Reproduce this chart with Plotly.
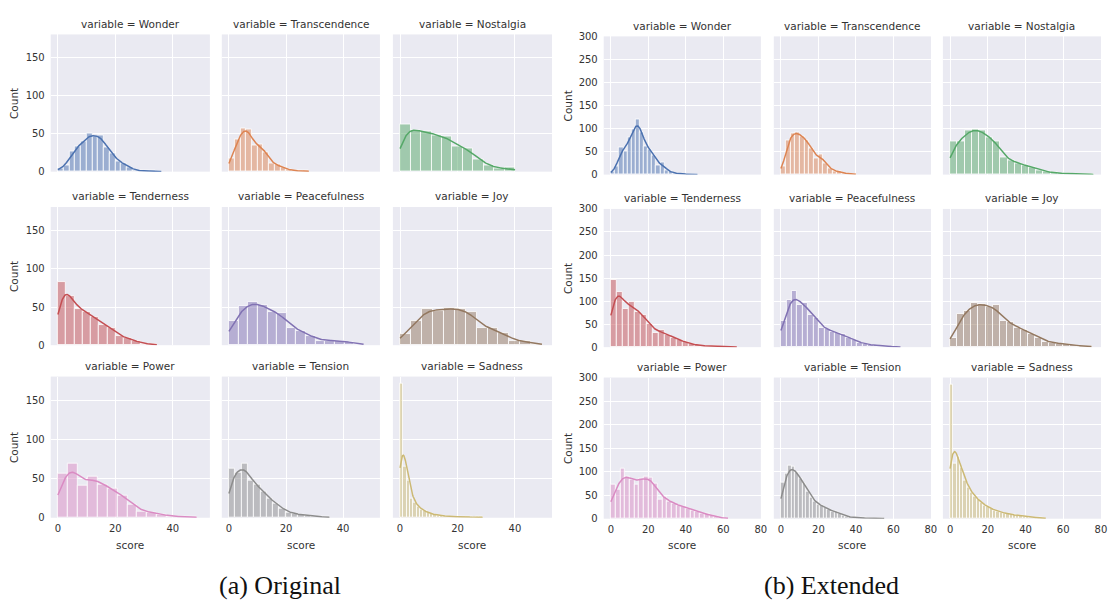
import numpy as np
import plotly.graph_objects as go

# ---------------- data ----------------
emotions = ["Wonder", "Transcendence", "Nostalgia",
            "Tenderness", "Peacefulness", "Joy",
            "Power", "Tension", "Sadness"]
colors = ["#4C72B0", "#DD8452", "#55A868",
          "#C44E52", "#8172B3", "#937860",
          "#DA8BC3", "#8C8C8C", "#CCB974"]

# (a) Original: bin width per emotion and counts per bin (bins start at 0)
orig_binwidth = [2.0, 2.0, 3.64, 2.87, 3.37, 3.8, 3.45, 2.2, 1.15]
orig_wonder = [4, 8, 27, 33, 40, 50, 47, 48, 32, 24, 13, 11, 5, 2, 1, 1, 1, 0]
orig_transcendence = [18, 42, 57, 56, 34, 36, 25, 11, 9, 5, 3, 1, 1, 1]
orig_nostalgia = [62, 54, 53, 48, 46, 33, 31, 16, 8, 4, 5]
orig_tenderness = [83, 65, 47, 44, 37, 27, 22, 12, 9, 5, 2, 1]
orig_peacefulness = [32, 51, 57, 53, 44, 42, 22, 19, 12, 6, 6, 6, 4, 2]
orig_joy = [15, 32, 48, 45, 49, 47, 44, 22, 23, 16, 5, 5, 2]
orig_power = [56, 70, 41, 53, 43, 37, 29, 17, 8, 7, 4, 2, 1, 1]
orig_tension = [63, 58, 70, 48, 42, 33, 25, 18, 12, 7, 5, 4, 3, 2, 1, 1]
orig_sadness = [172, 65, 48, 24, 20, 14, 10, 9, 6, 5, 4, 3, 3, 2, 2, 1, 1,
                1, 2, 2, 1, 1, 0, 1, 1]

# (b) Extended
ext_binwidth = [2.2, 2.5, 3.8, 3.2, 2.9, 3.75, 2.5, 1.9, 1.75]
ext_wonder = [7, 18, 60, 50, 80, 98, 120, 92, 62, 55, 42, 20, 26, 10, 6, 3,
              2, 1, 1, 1, 1]
ext_transcendence = [17, 74, 90, 92, 84, 75, 58, 36, 44, 24, 13, 8, 6, 3, 2, 1]
ext_nostalgia = [72, 72, 96, 99, 95, 80, 72, 38, 30, 25, 20, 16, 10, 6, 4, 3,
                 2, 1, 1, 1]
ext_tenderness = [146, 120, 82, 98, 76, 70, 50, 30, 37, 27, 20, 15, 11, 6, 4,
                  3, 3, 2, 1, 1, 1]
ext_peacefulness = [58, 102, 122, 91, 97, 71, 63, 42, 39, 34, 31, 29, 21, 15,
                    10, 7, 5, 4, 3, 2, 1, 1]
ext_joy = [21, 72, 79, 96, 94, 88, 91, 57, 54, 42, 38, 29, 21, 12, 10, 8, 6,
           4, 3, 2]
ext_power = [72, 62, 107, 90, 83, 73, 86, 90, 88, 75, 41, 47, 36, 32, 28, 26,
             22, 18, 15, 12, 10, 6, 4, 2, 1]
ext_tension = [77, 95, 114, 110, 98, 86, 74, 58, 46, 36, 31, 27, 24, 19, 16,
               15, 12, 6, 4, 3, 3, 2, 2, 2, 1, 1, 1, 1, 1]
ext_sadness = [286, 118, 132, 108, 82, 66, 56, 48, 40, 34, 29, 25, 21, 18, 16,
               14, 12, 10, 9, 8, 7, 6, 5, 4, 3, 3, 2, 2, 1]

orig_counts = [orig_wonder, orig_transcendence, orig_nostalgia,
               orig_tenderness, orig_peacefulness, orig_joy,
               orig_power, orig_tension, orig_sadness]
ext_counts = [ext_wonder, ext_transcendence, ext_nostalgia,
              ext_tenderness, ext_peacefulness, ext_joy,
              ext_power, ext_tension, ext_sadness]

orig_yticks = [0, 50, 100, 150]
ext_yticks = [0, 50, 100, 150, 200, 250, 300]
orig_xticks = [0, 20, 40]
ext_xticks = [0, 20, 40, 60, 80]
captions = ["(a) Original", "(b) Extended"]

# ---------------- layout geometry (pixels) ----------------
W, H = 1113, 610
grid_cols = [[(51, 211), (223, 382), (395, 555)],
             [(607, 765), (778, 936), (948, 1107)]]
grid_rows = [[(29, 169), (205, 346), (378, 522)],
             [(31, 172), (207, 348), (379, 523)]]
grid_xrange = [[-2.5, 52.9], [-3.81, 80.05]]
grid_yrange = [[0, 181], [0, 300]]
count_label_x = [14, 571]
caption_x = [282, 836]

FONT = "DejaVu Sans"
TXT = "#333333"


def fx(p):
    return p / W


def fy(p):
    return 1 - p / H


def rgba(hexc, a):
    h = hexc.lstrip("#")
    r, g, b = int(h[0:2], 16), int(h[2:4], 16), int(h[4:6], 16)
    return f"rgba({r},{g},{b},{a})"


def kde_curve(counts, width):
    c = np.asarray(counts, float)
    edges = np.arange(len(c) + 1) * width
    centers = edges[:-1] + width / 2
    n = c.sum()
    mean = (c * centers).sum() / n
    std = np.sqrt((c * (centers - mean) ** 2).sum() / n)
    bw = std * n ** (-0.2)
    xs = np.linspace(edges[0], edges[-1], 300)
    z = (xs[:, None] - centers[None, :]) / bw
    dens = (c[None, :] * np.exp(-0.5 * z ** 2)).sum(axis=1) / (bw * np.sqrt(2 * np.pi))
    return xs, dens * width


fig = go.Figure()
layout = {}
annotations = []

datasets = [(orig_counts, orig_binwidth, orig_yticks, orig_xticks),
            (ext_counts, ext_binwidth, ext_yticks, ext_xticks)]

for g, (counts_all, widths, yt, xt) in enumerate(datasets):
    for k in range(9):
        r, c = divmod(k, 3)
        idx = g * 9 + k + 1
        xa = "x" if idx == 1 else f"x{idx}"
        ya = "y" if idx == 1 else f"y{idx}"
        counts = counts_all[k]
        w = widths[k]
        centers = [(i + 0.5) * w for i in range(len(counts))]
        fig.add_trace(go.Bar(
            x=centers, y=counts, width=w, xaxis=xa, yaxis=ya,
            marker=dict(color=rgba(colors[k], 0.5),
                        line=dict(color="white", width=0.8)),
            showlegend=False, hoverinfo="skip"))
        kx, ky = kde_curve(counts, w)
        fig.add_trace(go.Scatter(
            x=kx, y=ky, mode="lines", xaxis=xa, yaxis=ya,
            line=dict(color=colors[k], width=1.5),
            showlegend=False, hoverinfo="skip"))

        x0, x1 = grid_cols[g][c]
        y0, y1 = grid_rows[g][r]
        layout[f"xaxis{idx}"] = dict(
            domain=[fx(x0), fx(x1)], range=grid_xrange[g], anchor=ya,
            tickvals=xt, showticklabels=(r == 2), showgrid=True,
            gridcolor="white", gridwidth=1, zeroline=False, showline=False,
            ticks="", tickfont=dict(family=FONT, size=10, color=TXT),
            ticklabelstandoff=3, fixedrange=True)
        layout[f"yaxis{idx}"] = dict(
            domain=[fy(y1), fy(y0)], range=grid_yrange[g], anchor=xa,
            tickvals=yt, showticklabels=(c == 0), showgrid=True,
            gridcolor="white", gridwidth=1, zeroline=False, showline=False,
            ticks="", tickfont=dict(family=FONT, size=10, color=TXT),
            ticklabelstandoff=5, fixedrange=True)

        annotations.append(dict(
            text=f"variable = {emotions[k]}", x=fx((x0 + x1) / 2), y=fy(y0 - 11),
            xref="paper", yref="paper", showarrow=False, xanchor="center",
            yanchor="middle", font=dict(family=FONT, size=10.5, color=TXT)))
        if c == 0:
            annotations.append(dict(
                text="Count", x=fx(count_label_x[g]), y=fy((y0 + y1) / 2),
                xref="paper", yref="paper", showarrow=False, textangle=-90,
                xanchor="center", yanchor="middle",
                font=dict(family=FONT, size=10.5, color=TXT)))
        if r == 2:
            annotations.append(dict(
                text="score", x=fx((x0 + x1) / 2), y=fy(550),
                xref="paper", yref="paper", showarrow=False,
                xanchor="center", yanchor="middle",
                font=dict(family=FONT, size=10.5, color=TXT)))
    annotations.append(dict(
        text=captions[g], x=fx(caption_x[g]), y=fy(591), xref="paper",
        yref="paper", showarrow=False, xanchor="center", yanchor="middle",
        font=dict(family="Liberation Serif", size=26, color="#111111")))

fig.update_layout(
    width=W, height=H, margin=dict(l=0, r=0, t=0, b=0),
    paper_bgcolor="white", plot_bgcolor="#EAEAF2",
    bargap=0, barmode="overlay", showlegend=False,
    annotations=annotations, **layout)

fig.write_html("out.html")
